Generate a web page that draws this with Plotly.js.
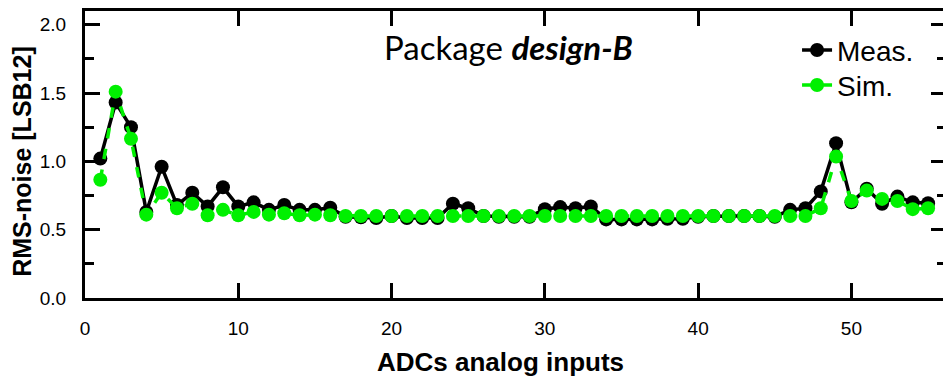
<!DOCTYPE html>
<html>
<head>
<meta charset="utf-8">
<script src="https://cdn.plot.ly/plotly-3.0.1.min.js"></script>
<style>
html,body{margin:0;padding:0;overflow:hidden;background:#fff;}
#chart{width:948px;height:377px;}
</style>
</head>
<body>
<div id="chart"></div>
<script>
// ADC input index
const adcInputs = [1,2,3,4,5,6,7,8,9,10,11,12,13,14,15,16,17,18,19,20,21,22,23,24,25,26,27,28,29,30,31,32,33,34,35,36,37,38,39,40,41,42,43,44,45,46,47,48,49,50,51,52,53,54,55];
// Measured RMS noise [LSB12]
const measNoise = [1.02,1.43,1.25,0.63,0.96,0.68,0.77,0.67,0.81,0.67,0.70,0.645,0.68,0.645,0.645,0.66,0.595,0.59,0.585,0.60,0.585,0.585,0.585,0.69,0.657,0.60,0.595,0.595,0.595,0.65,0.665,0.657,0.67,0.575,0.575,0.575,0.575,0.58,0.58,0.595,0.60,0.60,0.60,0.60,0.595,0.645,0.657,0.78,1.133,0.70,0.80,0.69,0.742,0.70,0.694];
// Simulated RMS noise [LSB12]
const simNoise = [0.865,1.51,1.165,0.61,0.77,0.657,0.69,0.605,0.645,0.605,0.63,0.61,0.62,0.605,0.61,0.605,0.60,0.60,0.60,0.60,0.60,0.60,0.60,0.60,0.60,0.60,0.60,0.60,0.60,0.60,0.60,0.60,0.60,0.60,0.60,0.60,0.60,0.60,0.60,0.60,0.60,0.60,0.60,0.60,0.60,0.60,0.60,0.657,1.035,0.71,0.786,0.725,0.71,0.65,0.657];
const xTickVals = [0,10,20,30,40,50];
const yTickVals = [0,0.5,1.0,1.5,2.0];
const yTickText = ['0.0','0.5','1.0','1.5','2.0'];

const FONT = 'Liberation Sans, Arial, sans-serif';

const traces = [
  {x: adcInputs, y: measNoise, name: 'Meas.', type: 'scatter', mode: 'lines+markers',
   legend: 'legend',
   line: {color: '#000000', width: 3.5}, marker: {color: '#000000', size: 14}},
  {x: adcInputs, y: simNoise, name: 'Sim.', type: 'scatter', mode: 'lines+markers',
   legend: 'legend2',
   line: {color: '#00f000', width: 3.5, dash: 'dash'}, marker: {color: '#00f000', size: 14}}
];

const legendFont = {family: FONT, size: 28, color: '#000'};

const layout = {
  width: 948, height: 377,
  margin: {l: 85, r: 2, t: 11, b: 79, pad: 0},
  paper_bgcolor: '#fff', plot_bgcolor: '#fff',
  font: {family: FONT, color: '#000'},
  showlegend: true,
  legend: {x: 0.827, xanchor: 'left', y: 0.95, yanchor: 'top', bgcolor: 'rgba(0,0,0,0)', font: legendFont},
  legend2: {x: 0.827, xanchor: 'left', y: 0.828, yanchor: 'top', bgcolor: 'rgba(0,0,0,0)', font: legendFont},
  xaxis: {
    range: [0, 56.17], tickvals: xTickVals, ticktext: xTickVals.map(String),
    ticks: 'inside', ticklen: 15, tickwidth: 3, tickcolor: '#000',
    showline: true, linewidth: 3, linecolor: '#000', mirror: 'ticks',
    showgrid: false, zeroline: false,
    tickfont: {size: 19, family: FONT},
    ticklabelstandoff: 11
  },
  yaxis: {
    range: [0, 2.1], tickvals: yTickVals, ticktext: yTickText,
    ticks: 'inside', ticklen: 15, tickwidth: 3, tickcolor: '#000',
    minor: {tickvals: [0.25,0.75,1.25,1.75], ticks: 'inside', ticklen: 9, tickwidth: 3, tickcolor: '#000'},
    showline: true, linewidth: 3, linecolor: '#000', mirror: 'ticks',
    showgrid: false, zeroline: false,
    tickfont: {size: 19, family: FONT},
    ticklabelstandoff: 12
  },
  annotations: [
    {text: 'Package <b><i>design-B</i></b>', xref: 'paper', yref: 'paper',
     x: 0.492, y: 0.875, xanchor: 'center', yanchor: 'middle', showarrow: false,
     font: {family: 'Lato, Open Sans, sans-serif', size: 33, color: '#000'}},
    {text: '<b>ADCs analog inputs</b>', xref: 'paper', yref: 'paper',
     x: 0.482, y: -0.223, xanchor: 'center', yanchor: 'middle', showarrow: false,
     font: {family: FONT, size: 26, color: '#000'}},
    {text: '<b>RMS-noise [LSB12]</b>', xref: 'paper', yref: 'paper', textangle: -90,
     x: -0.073, y: 0.475, xanchor: 'center', yanchor: 'middle', showarrow: false,
     font: {family: FONT, size: 25, color: '#000'}}
  ]
};

Plotly.newPlot('chart', traces, layout, {displayModeBar: false, staticPlot: true});
</script>
</body>
</html>
